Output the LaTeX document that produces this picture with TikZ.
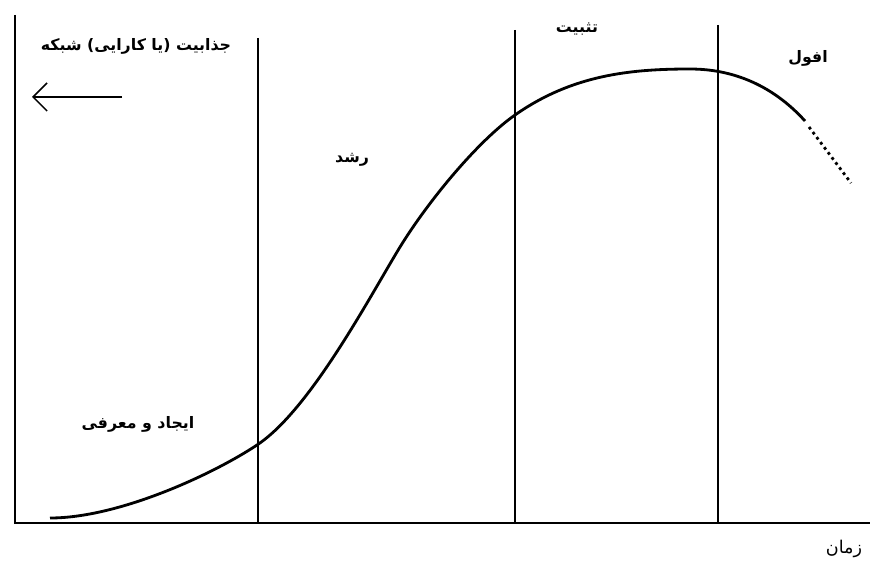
\documentclass[tikz,border=0pt]{standalone}
\usepackage{fontspec}
\newfontfamily\arabicfont[Script=Arabic]{DejaVu Sans}
\TeXXeTstate=1
\usetikzlibrary{arrows.meta,positioning}

\begin{document}
\begin{tikzpicture}[x=0.02cm,y=-0.02cm,
  lbl/.style={font=\arabicfont\bfseries\small,inner sep=1pt},
  axis/.style={line width=1.1pt},
  phase/.style={line width=0.7pt}]
\useasboundingbox (0,0) rectangle (875,564);
% axes
\coordinate (o) at (15,523);
\coordinate (ytop) at (15,15);
\coordinate (xend) at (870,523);
\draw[axis] (ytop)--(o)--(xend);
% phase borders
\coordinate (b1) at (258,38);\coordinate (b1o) at (258,523);
\coordinate (b2) at (515,30);\coordinate (b2o) at (515,523);
\coordinate (b3) at (718,25);\coordinate (b3o) at (718,523);
\draw[phase] (b1)--(b1o);\draw[phase] (b2)--(b2o);\draw[phase] (b3)--(b3o);
% life cycle curve
\coordinate (c0) at (50,518);\coordinate (c1) at (257,445);\coordinate (c2) at (400,247);
\coordinate (c3) at (515,115);\coordinate (c4) at (690,69);\coordinate (c5) at (805,121);
\draw[line width=1.6pt] (c0) .. controls (120,518) and (215,473) .. (c1)
  .. controls (310,410) and (369,298) .. (c2)
  .. controls (429,200) and (478,141) .. (c3)
  .. controls (572,75) and (630,69) .. (c4)
  .. controls (740,69) and (778,91) .. (c5);
\coordinate (d1) at (809,127);\coordinate (d2) at (851,183);
\draw[line width=1.6pt,dotted] (d1)--(d2);
% labels
\node[lbl] (attr) at (136,46) {\beginR جذابیت (یا کارایی) شبکه\endR};
\coordinate (arrs) at (122,97);\coordinate (arre) at (32,97);
\draw[-{Straight Barb[length=8pt,width=16pt]},line width=0.9pt] (arrs)--(arre);
\node[lbl] (intro) at (138,424) {\beginR ایجاد و معرفی\endR};
\node[lbl] (grow) at (352,160) {\beginR رشد\endR};
\node[lbl] (stab) at (577,29) {\beginR تثبیت\endR};
\node[lbl] (decl) at (808,58) {\beginR افول\endR};
\node[lbl,font=\arabicfont\normalsize] (time) at (844,549) {\beginR زمان\endR};
\end{tikzpicture}
\end{document}
